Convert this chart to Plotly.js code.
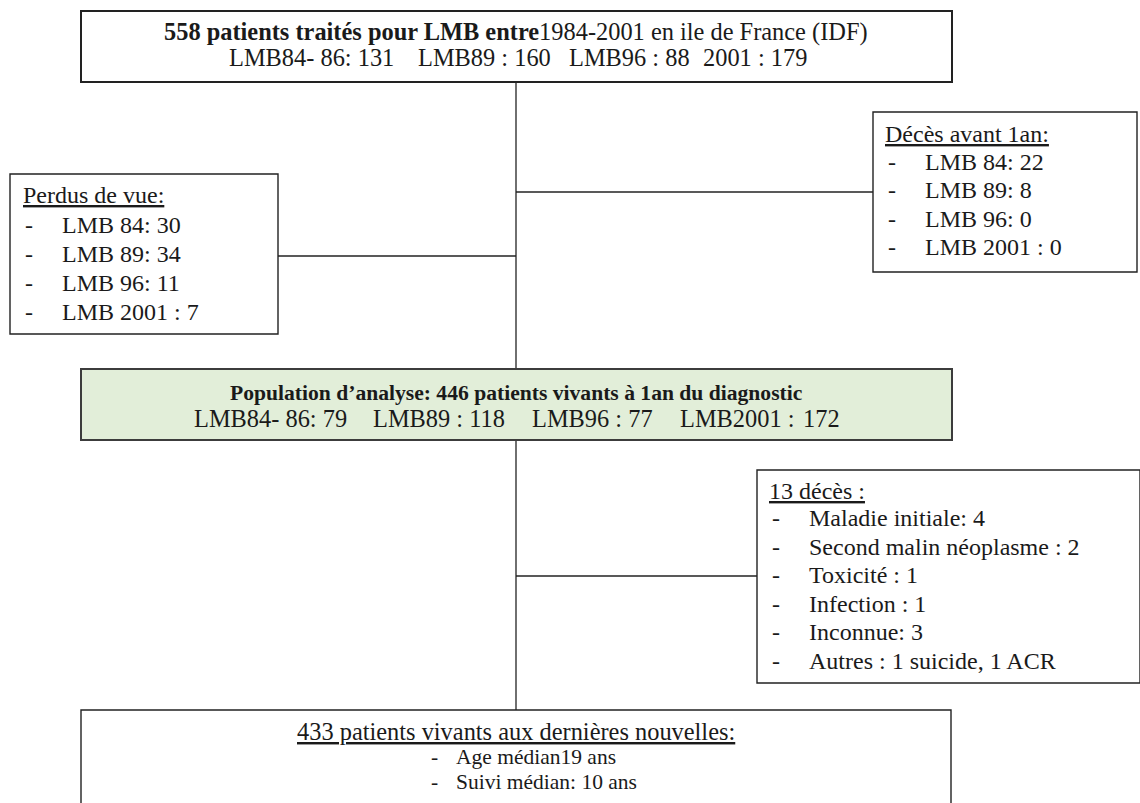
<!DOCTYPE html>
<html>
<head>
<meta charset="utf-8">
<script src="https://cdn.plot.ly/plotly-3.0.1.min.js"></script>
<style>html,body{margin:0;padding:0;background:#fff;}#chart{width:1140px;height:803px;}</style>
</head>
<body>
<div id="chart"></div>
<script>
const totalTreated = 558;
const topCohorts = ['LMB84- 86', 'LMB89', 'LMB96', '2001'];
const topSeps = [': ', ' : ', ' : ', ' : '];
const treatedCounts = [131, 160, 88, 179];

const lostCohorts = ['LMB 84', 'LMB 89', 'LMB 96', 'LMB 2001'];
const lostSeps = [': ', ': ', ': ', ' : '];
const lostCounts = [30, 34, 11, 7];

const earlyDeathCohorts = ['LMB 84', 'LMB 89', 'LMB 96', 'LMB 2001'];
const earlyDeathSeps = [': ', ': ', ': ', ' : '];
const earlyDeathCounts = [22, 8, 0, 0];

const analysedTotal = 446;
const analysedCohorts = ['LMB84- 86', 'LMB89', 'LMB96', 'LMB2001'];
const analysedSeps = [': ', ' : ', ' : ', ' : '];
const analysedCounts = [79, 118, 77, 172];

const lateDeathTotal = 13;
const deathCauses = ['Maladie initiale', 'Second malin néoplasme', 'Toxicité', 'Infection', 'Inconnue', 'Autres'];
const deathSeps = [': ', ' : ', ' : ', ' : ', ': ', ' : '];
const deathCounts = ['4', '2', '1', '1', '3', '1 suicide, 1 ACR'];

const aliveTotal = 433;
const medianAge = 19;
const medianFollowUp = 10;

// ---- Drawing ----
const FONT = 'Liberation Serif';
const ink = '#1a1a1a';
const FS = 24.4;

const shapes = [];
const ann = [];

function box(x0, y0, x1, y1, opts) {
  opts = opts || {};
  shapes.push({type:'rect', xref:'x', yref:'y', x0, y0, x1, y1,
    line:{color: opts.lc || '#222', width: opts.lw || 1.4},
    fillcolor: opts.fill || 'rgba(0,0,0,0)', layer:'below'});
}
function line(x0, y0, x1, y1) {
  shapes.push({type:'line', xref:'x', yref:'y', x0, y0, x1, y1, line:{color:'#222', width:1.3}, layer:'below'});
}
function text(x, y, t, anchor, size) {
  ann.push({xref:'x', yref:'y', x, y, text:t, showarrow:false, xanchor: anchor || 'left', yanchor:'middle',
    font:{family:FONT, size: size || FS, color:ink}, align:'left', borderpad:0});
}
function listItems(dashX, textX, y0, dy, labels, seps, vals, size) {
  labels.forEach((lab, i) => {
    const y = y0 + i * dy;
    text(dashX, y, '-', 'left', size);
    text(textX, y, lab + seps[i] + vals[i], 'left', size);
  });
}

// connectors
const cx = 516;
line(cx, 82, cx, 369);
line(cx, 440, cx, 710);
line(278, 256, cx, 256);
line(cx, 192, 873, 192);
line(cx, 576, 757, 576);

// top box
box(81, 11, 952, 82, {lw:2});
text(cx, 32, '<b>' + totalTreated + ' patients traités pour LMB entre</b>1984-2001 en ile de France (IDF)', 'center');
const topX = [228, 417, 568, 702];
topCohorts.forEach((c, i) => text(topX[i], 57, c + topSeps[i] + treatedCounts[i], 'left'));

// lost to follow-up
box(10, 174, 278, 334);
text(22, 195, '<u>Perdus de vue:</u>', 'left', 24);
listItems(24, 61, 225, 29, lostCohorts, lostSeps, lostCounts, 24);

// deaths before 1 year
box(873, 112, 1137, 272);
text(884, 134, '<u>Décès avant 1an:</u>', 'left', 24);
listItems(887, 924, 162, 28.3, earlyDeathCohorts, earlyDeathSeps, earlyDeathCounts, 24);

// analysed population
box(81, 369, 952, 440, {fill:'#e2eed9', lc:'#3c3c3c', lw:2});
text(cx, 393, '<b>Population d’analyse: ' + analysedTotal + ' patients vivants à 1an du diagnostic</b>', 'center', 21.6);
const anX = [193, 372, 531, 679];
analysedCohorts.forEach((c, i) => {
  if (i < analysedCohorts.length - 1) text(anX[i], 418, c + analysedSeps[i] + analysedCounts[i], 'left');
  else { text(anX[i], 418, c + analysedSeps[i].trimEnd(), 'left'); text(841, 418, String(analysedCounts[i]), 'right'); }
});

// late deaths
box(757, 470, 1140, 683);
text(768, 491, '<u>' + lateDeathTotal + ' décès :</u>', 'left', 24);
listItems(771, 808, 518, 28.6, deathCauses, deathSeps, deathCounts, 24);

// alive at last news
box(81, 710, 951, 830);
text(cx, 731, '<u>' + aliveTotal + ' patients vivants aux dernières nouvelles:</u>', 'center');
text(430, 757, '-', 'left', 21.5);
text(455, 757, 'Age médian' + medianAge + ' ans', 'left', 21.5);
text(430, 782, '-', 'left', 21.5);
text(455, 782, 'Suivi médian: ' + medianFollowUp + ' ans', 'left', 21.5);

const layout = {
  width:1140, height:803,
  margin:{l:0, r:0, t:0, b:0, pad:0},
  paper_bgcolor:'#fff', plot_bgcolor:'#fff',
  xaxis:{range:[0,1140], visible:false, fixedrange:true},
  yaxis:{range:[803,0], visible:false, fixedrange:true},
  shapes, annotations: ann, showlegend:false
};
Plotly.newPlot('chart', [{x:[], y:[], type:'scatter', mode:'markers', hoverinfo:'skip'}], layout, {displayModeBar:false, staticPlot:true});
</script>
</body>
</html>
